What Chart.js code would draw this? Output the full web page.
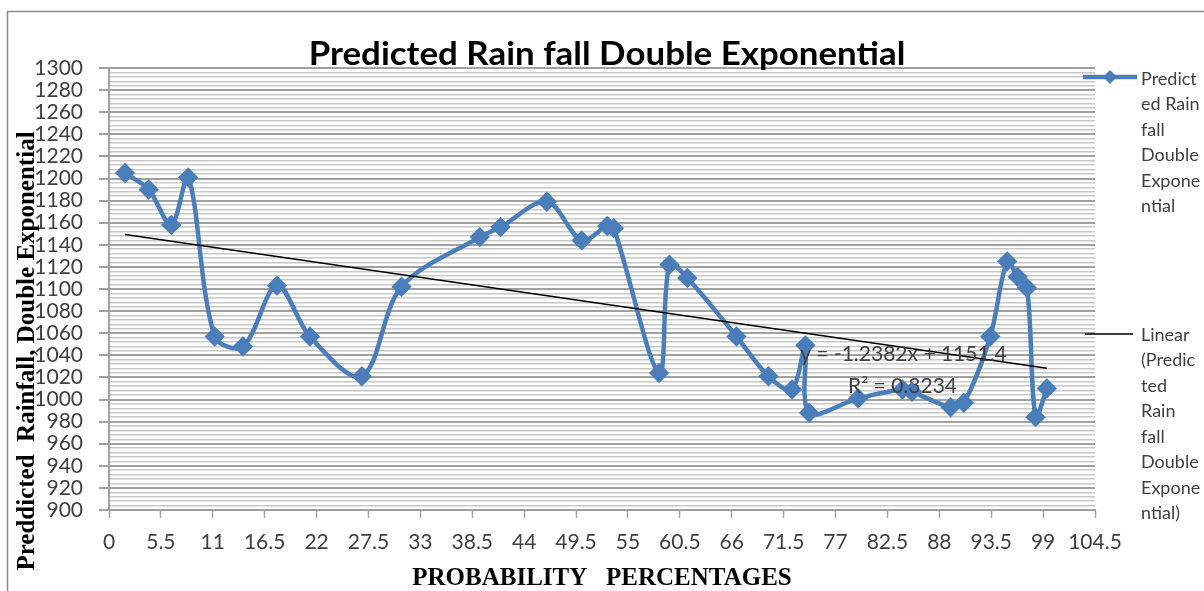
<!DOCTYPE html>
<html>
<head>
<meta charset="utf-8">
<title>Predicted Rain fall Double Exponential</title>
<script src="https://cdn.jsdelivr.net/npm/chart.js@4.4.1/dist/chart.umd.min.js"></script>
<style>
  html, body { margin: 0; padding: 0; background: #fff; }
  #wrap { position: relative; width: 1204px; height: 591px; }
</style>
</head>
<body>
<div id="wrap"><canvas id="rainChart" width="1204" height="591"></canvas></div>
<script>
// probability percentage (x) and predicted rainfall (y)
const probability = [
  1.7, 4.2, 6.6, 8.4, 11.2, 14.2, 17.8, 21.3, 26.8, 31.0,
  39.3, 41.5, 46.4, 50.1, 52.8, 53.5, 58.3, 59.4, 61.3, 66.5,
  69.9, 72.4, 73.8, 74.2, 79.4, 84.1, 85.1, 89.2, 90.6, 93.4,
  95.2, 96.3, 97.3, 98.2, 99.4,
];
const predictedRain = [
  1205, 1190, 1158, 1201, 1057, 1048, 1103, 1057, 1021, 1102,
  1147, 1156, 1179, 1144, 1157, 1155, 1024, 1122, 1110, 1057,
  1021, 1009, 1049, 988, 1001, 1009, 1007, 993, 997, 1057,
  1125, 1111, 1101, 984, 1010,
];

// linear trendline as printed on the chart
const trendSlope = -1.2382;
const trendIntercept = 1151.4;
const trendEquation = "y = -1.2382x + 1151.4";
const trendR2 = "R² = 0.3234";

// axes
const xMin = 0, xMax = 104.5, xStep = 5.5;
const yMin = 900, yMax = 1300, yMajor = 20, yMinor = 4;

const chartTitle = "Predicted Rain fall Double Exponential";
const xTitle = "PROBABILITY   PERCENTAGES";
const yTitle = "Preddicted  Rainfall, Double Exponential";
const legendRain = ["Predict", "ed Rain", "fall", "Double", "Expone", "ntial"];
const legendTrend = ["Linear", "(Predic", "ted", "Rain", "fall", "Double", "Expone", "ntial)"];

const BLUE = "#4A7EBB";
const GRID_MAJOR = "#a0a0a0";
const GRID_MINOR = "#c8c8c8";
const TEXT = "#404040";

const rainPoints = probability.map((x, i) => ({ x: x, y: predictedRain[i] }));
const xFirst = probability[0];
const xLast = probability[probability.length - 1];
const trendPoints = [
  { x: xFirst, y: trendSlope * xFirst + trendIntercept },
  { x: xLast, y: trendSlope * xLast + trendIntercept },
];

const isMajor = (v) => Math.round(v) % yMajor === 0;

function diamond(ctx, x, y, r) {
  ctx.beginPath();
  ctx.moveTo(x, y - r);
  ctx.lineTo(x + r, y);
  ctx.lineTo(x, y + r);
  ctx.lineTo(x - r, y);
  ctx.closePath();
  ctx.fill();
}

const decor = {
  id: "decor",
  beforeDraw(chart) {
    const ctx = chart.ctx;
    ctx.save();
    ctx.fillStyle = "#fff";
    ctx.fillRect(0, 0, chart.width, chart.height);
    ctx.strokeStyle = "#8c8c8c";
    ctx.lineWidth = 1.5;
    ctx.strokeRect(7.5, 11.5, 1300, 700);
    ctx.restore();
  },
  afterDraw(chart) {
    const ctx = chart.ctx;
    const area = chart.chartArea;
    const xs = chart.scales.x;
    const ys = chart.scales.y;
    ctx.save();

    // title (slightly widened, like the original)
    ctx.fillStyle = "#000";
    ctx.font = "bold 32px Lato";
    ctx.textAlign = "center";
    ctx.textBaseline = "alphabetic";
    ctx.save();
    ctx.translate(607, 65);
    ctx.scale(1.09, 1);
    ctx.fillText(chartTitle, 0, 0);
    ctx.restore();

    // axis titles
    ctx.font = "bold 25px 'Liberation Serif'";
    ctx.fillText(xTitle, (area.left + area.right) / 2, 585);
    ctx.save();
    ctx.translate(34, 351);
    ctx.rotate(-Math.PI / 2);
    ctx.fillText(yTitle, 0, 0);
    ctx.restore();

    // trendline label
    ctx.fillStyle = TEXT;
    ctx.font = "21px Lato";
    ctx.textBaseline = "middle";
    ctx.fillText(trendEquation, xs.getPixelForValue(84.2), ys.getPixelForValue(1041));
    ctx.fillText(trendR2, xs.getPixelForValue(84.1), ys.getPixelForValue(1012));

    // legend
    const lx = 1141, lineH = 25.5;
    ctx.strokeStyle = BLUE;
    ctx.lineWidth = 4.5;
    ctx.beginPath();
    ctx.moveTo(1083, 77);
    ctx.lineTo(1137, 77);
    ctx.stroke();
    ctx.fillStyle = BLUE;
    diamond(ctx, 1110, 77, 7);

    ctx.strokeStyle = "#000";
    ctx.lineWidth = 1.5;
    ctx.beginPath();
    ctx.moveTo(1085, 334);
    ctx.lineTo(1133, 334);
    ctx.stroke();

    ctx.fillStyle = TEXT;
    ctx.font = "18px Lato";
    ctx.textAlign = "left";
    legendRain.forEach((t, i) => ctx.fillText(t, lx, 79 + i * lineH));
    legendTrend.forEach((t, i) => ctx.fillText(t, lx, 335 + i * lineH));
    ctx.restore();
  },
};

const ctx = document.getElementById("rainChart");
new Chart(ctx, {
  type: "line",
  data: {
    datasets: [
      {
        label: "Linear (Predicted Rain fall Double Exponential)",
        data: trendPoints,
        borderColor: "#000",
        borderWidth: 1.5,
        pointRadius: 0,
        tension: 0,
        fill: false,
        order: 0,
      },
      {
        label: "Predicted Rain fall Double Exponential",
        data: rainPoints,
        borderColor: BLUE,
        backgroundColor: BLUE,
        borderWidth: 4.5,
        tension: 0.33,
        pointStyle: "rectRot",
        pointRadius: 7,
        pointBackgroundColor: BLUE,
        pointBorderColor: BLUE,
        fill: false,
        order: 1,
      },
    ],
  },
  options: {
    responsive: false,
    animation: false,
    layout: { padding: { top: 68, right: 109, left: 0, bottom: 0 } },
    plugins: {
      legend: { display: false },
      tooltip: { enabled: false },
    },
    scales: {
      x: {
        type: "linear",
        min: xMin,
        max: xMax,
        afterFit: (s) => { s.height = 81; },
        ticks: {
          stepSize: xStep,
          autoSkip: false,
          maxRotation: 0,
          color: TEXT,
          padding: 12,
          font: { family: "Lato", size: 21 },
        },
        grid: {
          drawOnChartArea: false,
          tickLength: 8,
          tickColor: GRID_MAJOR,
          tickWidth: 1.5,
        },
        border: { color: GRID_MAJOR, width: 2 },
      },
      y: {
        min: yMin,
        max: yMax,
        afterFit: (s) => { s.width = 109; },
        ticks: {
          stepSize: yMinor,
          autoSkip: false,
          color: TEXT,
          padding: 16,
          font: { family: "Lato", size: 21 },
          callback: (v) => (isMajor(v) ? v : ""),
        },
        grid: {
          color: (c) => (isMajor(c.tick.value) ? GRID_MAJOR : GRID_MINOR),
          lineWidth: (c) => (isMajor(c.tick.value) ? 2 : 1.5),
          tickColor: (c) => (isMajor(c.tick.value) ? GRID_MAJOR : "rgba(0,0,0,0)"),
          tickLength: 10,
        },
        border: { color: GRID_MAJOR, width: 2 },
      },
    },
  },
  plugins: [decor],
});
</script>
</body>
</html>
